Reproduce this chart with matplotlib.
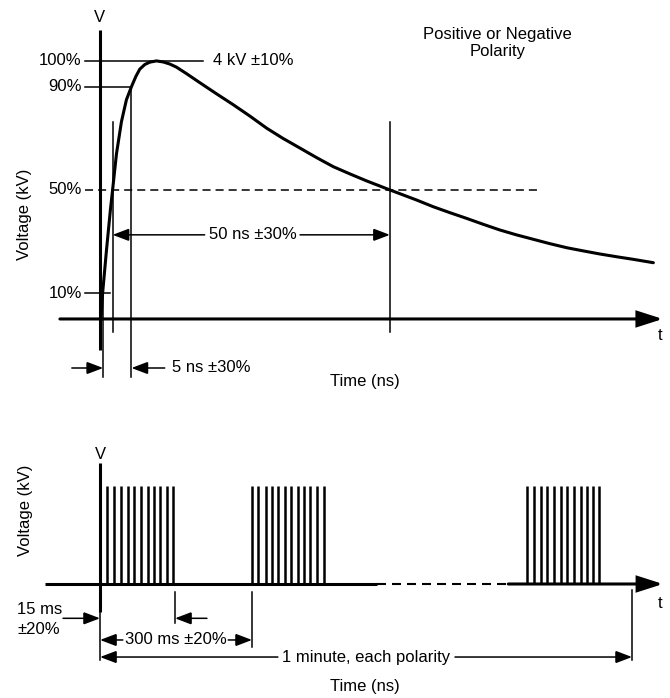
import matplotlib
matplotlib.use("Agg")
import matplotlib.pyplot as plt
from matplotlib.patches import FancyArrowPatch

plt.rcParams['font.family'] = ['Liberation Sans', 'DejaVu Sans']
plt.rcParams['font.size'] = 12
plt.rcParams['lines.scale_dashes'] = False

# --- top: single pulse (time in ns, voltage in % of peak) ---
pulse_t = [0.2, 0.5, 1.2, 1.9, 2.3, 3.0, 3.9, 4.8, 5.7, 6.5, 7.2, 8.1, 9.0, 10.2,
           11.4, 12.6, 13.8, 15.6, 18.0, 21.0, 24.0, 27.0, 30.1, 33.0, 36.1,
           39.1, 42.1, 45.1, 48.1, 52.3, 57.1, 60.1, 63.1, 66.1, 69.1, 72.1,
           75.1, 78.1, 81.1, 84.2, 87.1, 90.1, 93.2, 96.2, 99.8]
pulse_v = [0.0, 10.0, 26.7, 42.2, 50.0, 64.0, 76.5, 85.0, 90.0, 94.0, 96.8, 98.6, 99.5, 100.0,
           99.6, 98.8, 97.6, 95.1, 91.6, 87.3, 83.1, 78.7, 73.9, 70.0, 66.2,
           62.5, 59.0, 56.2, 53.5, 50.0, 46.1, 43.5, 41.2, 39.0, 36.7, 34.5,
           32.6, 30.9, 29.2, 27.6, 26.4, 25.2, 24.1, 23.1, 21.8]
level_labels = ['100%', '90%', '50%', '10%']
level_values = [100, 90, 50, 10]
t10, t50_rise, t90, t50_fall = 0.6, 2.3, 5.7, 52.3

# --- bottom: burst train (schematic time, ms) ---
burst1 = [14.4, 27.6, 42.0, 54.7, 67.7, 81.5, 94.1, 106.6, 119.0, 132.2, 144.7]
burst2 = [299.4, 312.4, 327.0, 338.8, 351.8, 365.1, 376.9, 390.1, 403.1, 414.9, 427.6, 441.5]
burst3 = [843.3, 856.5, 869.7, 882.7, 895.9, 909.2, 922.2, 935.5, 948.7, 961.7, 973.6, 985.4]
burst_end = 148
period_mark = 300
minute_mark = 1050

THIN = 1.1
THICK = 2.2


def arrow(ax, tail, tip, lw=THIN, hl=10, hw=3.8):
    ax.add_patch(FancyArrowPatch(tail, tip,
                                 arrowstyle=f'-|>,head_length={hl},head_width={hw}',
                                 mutation_scale=1, lw=lw, color='black',
                                 shrinkA=0, shrinkB=0, joinstyle='miter',
                                 clip_on=False))


fig = plt.figure(figsize=(6.7, 6.98), dpi=100)

# ================= top panel =================
ax = fig.add_axes([0, 1 - 400 / 698, 1, 400 / 698])
ax.set_xlim(-18.0, 102.8)
ax.set_ylim(-31.4, 123.6)
ax.axis('off')

ax.plot(pulse_t, pulse_v, color='black', lw=THICK, solid_joinstyle='round',
        solid_capstyle='round')

# axes
ax.plot([0, 0], [-12, 112], color='black', lw=THICK, solid_capstyle='butt')
arrow(ax, (-7.2, 0), (101.5, 0), lw=THICK, hl=15, hw=4.8)
ax.text(0, 117, 'V', ha='center', va='center')
ax.text(101.0, -6.5, 't', ha='center', va='center')
ax.text(47.8, -24.4, 'Time (ns)', ha='center', va='center')
ax.text(-13.5, 40.7, 'Voltage (kV)', ha='center', va='center', rotation=90)

# level labels and reference lines
for lab, val in zip(level_labels, level_values):
    ax.text(-3.25, val, lab, ha='right', va='center')
ax.plot([-2.7, 18.6], [100, 100], color='black', lw=THIN)
ax.plot([-2.7, t90], [90, 90], color='black', lw=THIN)
ax.plot([-2.7, 79.3], [50, 50], color='black', lw=THIN, dashes=(5.8, 3.6))
ax.plot([-2.7, 1.8], [10, 10], color='black', lw=THIN)
ax.text(20.4, 100, '4 kV ±10%', ha='left', va='center')

# marker verticals
ax.plot([t10, t10], [10, -22.5], color='black', lw=THIN)
ax.plot([t90, t90], [90, -22.5], color='black', lw=THIN)
ax.plot([t50_rise, t50_rise], [76.4, -5], color='black', lw=THIN)
ax.plot([t50_fall, t50_fall], [76.4, -5], color='black', lw=THIN)

# 50 ns width
ax.text(27.6, 32.6, '50 ns ±30%', ha='center', va='center')
arrow(ax, (18.9, 32.6), (t50_rise, 32.6))
arrow(ax, (36.1, 32.6), (t50_fall, 32.6))

# 5 ns rise
arrow(ax, (-5.05, -19), (t10, -19))
arrow(ax, (11.7, -19), (t90, -19))
ax.text(13.1, -19, '5 ns ±30%', ha='left', va='center')

ax.text(71.7, 107, 'Positive or Negative\nPolarity', ha='center', va='center',
        linespacing=1.2)

# ================= bottom panel =================
bx = fig.add_axes([0, 0, 1, 268 / 698])
bx.set_xlim(-197.4, 1124.9)
bx.set_ylim(-1.163, 1.571)
bx.axis('off')

for burst in (burst1, burst2, burst3):
    bx.vlines(burst, 0, 1, color='black', lw=1.8)

bx.plot([0, 0], [-0.286, 1.235], color='black', lw=THICK, solid_capstyle='butt')
bx.plot([0, 0], [-0.776, -0.286], color='black', lw=THIN)
bx.plot([-108.5, 546], [0, 0], color='black', lw=THICK, solid_capstyle='butt')
bx.plot([546, 805.8], [0, 0], color='black', lw=1.5, dashes=(6.5, 4.3))
arrow(bx, (805.8, 0), (1111, 0), lw=THICK, hl=15, hw=4.8)
bx.text(0, 1.316, 'V', ha='center', va='center')
bx.text(1105, -0.194, 't', ha='center', va='center')
bx.text(-148, 0.755, 'Voltage (kV)', ha='center', va='center', rotation=90)
bx.text(523, -1.05, 'Time (ns)', ha='center', va='center')

# ticks
bx.plot([burst_end, burst_end], [-0.08, -0.40], color='black', lw=THIN)
bx.plot([period_mark, period_mark], [-0.08, -0.643], color='black', lw=THIN)
bx.plot([minute_mark, minute_mark], [-0.06, -0.776], color='black', lw=THIN)

# 15 ms
bx.text(-163.8, -0.265, '15 ms', ha='left', va='center')
bx.text(-163.8, -0.469, '±20%', ha='left', va='center')
arrow(bx, (-73, -0.35), (0, -0.35))
arrow(bx, (211, -0.35), (burst_end, -0.35))

# 300 ms
bx.text(149, -0.571, '300 ms ±20%', ha='center', va='center')
arrow(bx, (45, -0.571), (0, -0.571))
arrow(bx, (253, -0.571), (period_mark, -0.571))

# 1 minute
bx.text(525, -0.745, '1 minute, each polarity', ha='center', va='center')
arrow(bx, (351, -0.745), (0, -0.745))
arrow(bx, (700.6, -0.745), (minute_mark, -0.745))

fig.savefig('out.png', dpi=100, facecolor='white')
